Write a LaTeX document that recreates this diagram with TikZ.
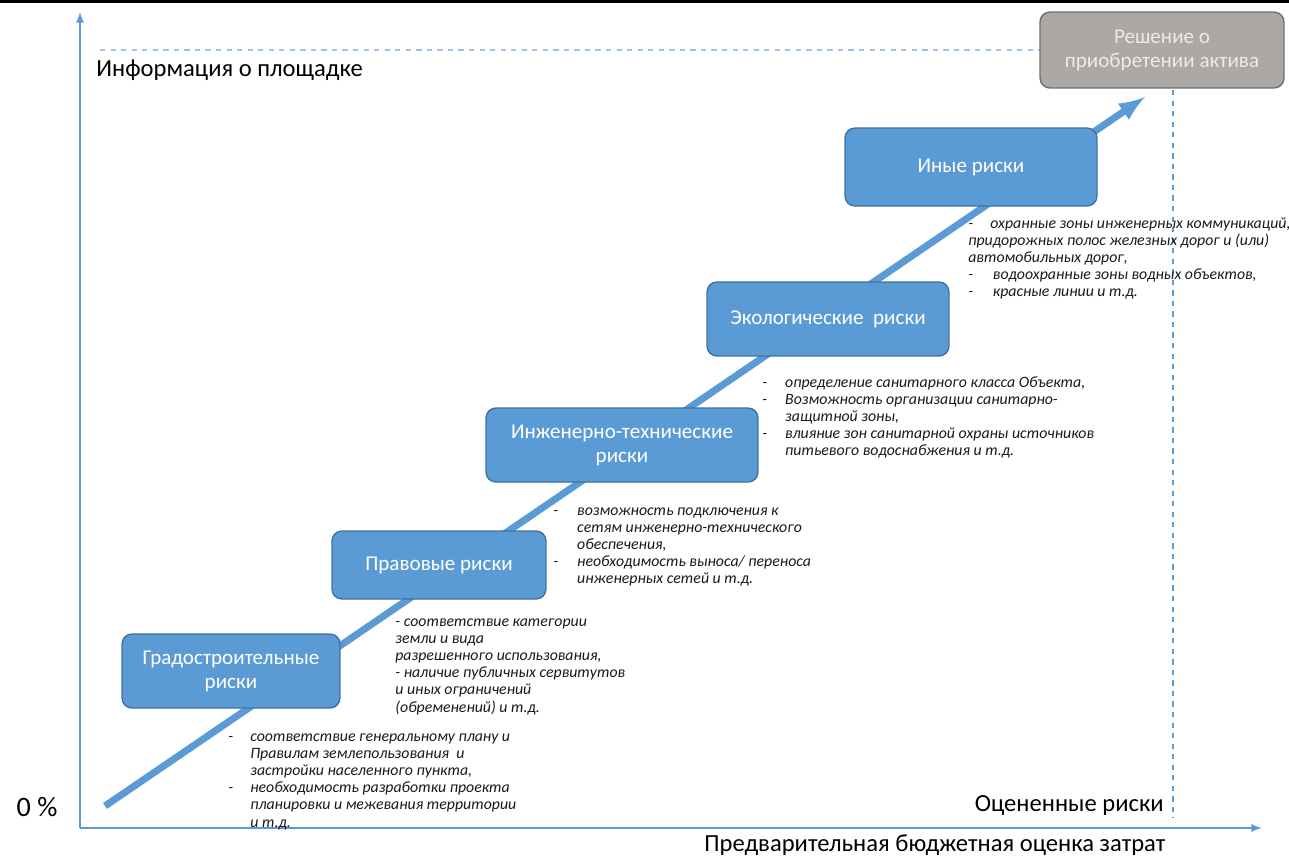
\documentclass[tikz,border=0pt]{standalone}
\usepackage{fontspec}
\setmainfont{Carlito}
\usepackage{tikz}
\definecolor{riskblue}{HTML}{5B9BD5}
\definecolor{riskedge}{HTML}{41719C}
\definecolor{guideblue}{HTML}{9DC3E6}
\definecolor{decgray}{HTML}{ABA8A6}
\definecolor{decedge}{HTML}{6F6F6F}
\newcommand{\dashmark}[1]{\makebox[#1][l]{-}}

\begin{document}
\begin{tikzpicture}[x=0.02cm,y=-0.02cm,
  riskbox/.style={draw=riskedge,fill=riskblue,line width=0.8pt,rounded corners=0.2cm,
    text=white,align=center,font=\fontsize{12}{13.6}\selectfont},
  notes/.style={anchor=north west,inner sep=0pt,align=left,text=black!90,
    font=\fontsize{9}{9.8}\selectfont\itshape},
  axislabel/.style={inner sep=0pt,font=\fontsize{14}{16}\selectfont}]
 \useasboundingbox (0,0) rectangle (1289,856);
 \draw[black,line width=1.7pt] (0,1.5)--(1289,1.5);
 % axes and guides
 \coordinate (origin) at (80,828);
 \coordinate (ytop) at (80,12);
 \coordinate (xend) at (1262,828);
 \draw[guideblue,dashed,line width=0.8pt] (100,50)--(1040,50);
 \draw[riskblue,dashed,line width=0.6pt] (1173,90)--(1173,818);
 \draw[riskblue,-latex,line width=1.1pt] (origin)--(ytop);
 \draw[riskblue,-latex,line width=1.1pt] (origin)--(xend);
 \coordinate (start) at (105,806);
 \coordinate (finish) at (1145,97);
 \draw[riskblue,-latex,line width=4pt] (start)--(finish);
 % risk boxes
 \node[riskbox,minimum width=4.36cm,minimum height=1.48cm] (grad) at (231,671) {Градостроительные\\риски};
 \node[riskbox,minimum width=4.28cm,minimum height=1.36cm] (prav) at (439,565) {Правовые риски};
 \node[riskbox,minimum width=5.44cm,minimum height=1.48cm] (inzh) at (622,445) {Инженерно-технические\\риски};
 \node[riskbox,minimum width=4.84cm,minimum height=1.48cm] (eko) at (828,319) {Экологические\ \ риски};
 \node[riskbox,minimum width=5.04cm,minimum height=1.56cm] (inye) at (971,167) {Иные риски};
 \node[riskbox,draw=decedge,fill=decgray,text=white!92!black,minimum width=4.88cm,minimum height=1.52cm] (resh) at (1162,50) {Решение о\\приобретении актива};
 % notes
 \node[notes] (gradnotes) at (228,733) {\dashmark{12.5pt}соответствие генеральному плану и\\
  \hspace*{12.5pt}Правилам землепользования\ \ и\\
  \hspace*{12.5pt}застройки населенного пункта,\\
  \dashmark{12.5pt}необходимость разработки проекта\\
  \hspace*{12.5pt}планировки и межевания территории\\
  \hspace*{12.5pt}и т.д.};
 \node[notes] (pravnotes) at (395,618) {- соответствие категории\\
  земли и вида\\
  разрешенного использования,\\
  - наличие публичных сервитутов\\
  и иных ограничений\\
  (обременений) и т.д.};
 \node[notes] (inzhnotes) at (553,507) {\dashmark{13.6pt}возможность подключения к\\
  \hspace*{13.6pt}сетям инженерно-технического\\
  \hspace*{13.6pt}обеспечения,\\
  \dashmark{13.6pt}необходимость выноса/ переноса\\
  \hspace*{13.6pt}инженерных сетей и т.д.};
 \node[notes] (ekonotes) at (762,376) {\dashmark{13pt}определение санитарного класса Объекта,\\
  \dashmark{13pt}Возможность организации санитарно-\\
  \hspace*{13pt}защитной зоны,\\
  \dashmark{13pt}влияние зон санитарной охраны источников\\
  \hspace*{13pt}питьевого водоснабжения и т.д.};
 \node[notes] (inyenotes) at (968,217) {\dashmark{12.5pt}охранные зоны инженерных коммуникаций,\\
  придорожных полос железных дорог и (или)\\
  автомобильных дорог,\\
  \dashmark{14pt}водоохранные зоны водных объектов,\\
  \dashmark{14pt}красные линии и т.д.};
 % axis labels
 \node[axislabel,anchor=west] (info) at (96,70) {Информация о площадке};
 \node[axislabel,font=\fontsize{16}{18}\selectfont] (zero) at (37,807) {0 \%};
 \node[axislabel,anchor=east] (rated) at (1164,806) {Оцененные риски};
 \node[axislabel,anchor=west] (budget) at (704,845) {Предварительная бюджетная оценка затрат};
\end{tikzpicture}
\end{document}
